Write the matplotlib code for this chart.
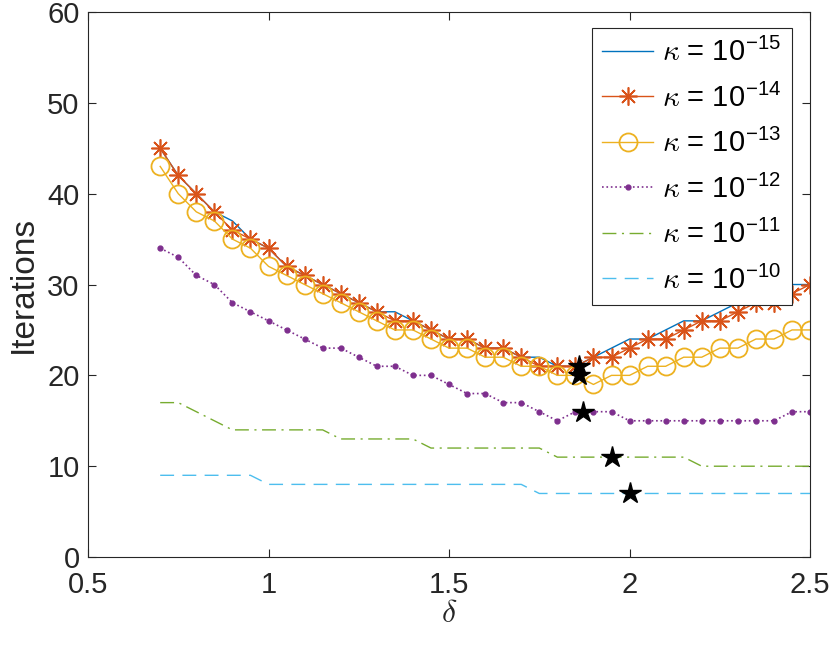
import numpy as np
import matplotlib
matplotlib.use('Agg')
import matplotlib.pyplot as plt

plt.rcParams['font.family'] = ['Liberation Sans', 'DejaVu Sans']
plt.rcParams['mathtext.fontset'] = 'cm'

# delta grid
delta = [0.70, 0.75, 0.80, 0.85, 0.90, 0.95, 1.00, 1.05, 1.10, 1.15, 1.20, 1.25,
         1.30, 1.35, 1.40, 1.45, 1.50, 1.55, 1.60, 1.65, 1.70, 1.75, 1.80, 1.85,
         1.90, 1.95, 2.00, 2.05, 2.10, 2.15, 2.20, 2.25, 2.30, 2.35, 2.40, 2.45, 2.50]

# iterations per kappa
it_k15 = [45, 42, 40, 38, 37, 35, 34, 32, 31, 30, 29, 28, 27, 27, 26, 25, 24, 24, 23,
          23, 22, 22, 21, 21, 22, 23, 24, 24, 25, 26, 26, 27, 28, 28, 29, 30, 30]
it_k14 = [45, 42, 40, 38, 36, 35, 34, 32, 31, 30, 29, 28, 27, 26, 26, 25, 24, 24, 23,
          23, 22, 21, 21, 21, 22, 22, 23, 24, 24, 25, 26, 26, 27, 28, 28, 29, 30]
it_k13 = [43, 40, 38, 37, 35, 34, 32, 31, 30, 29, 28, 27, 26, 25, 25, 24, 23, 23, 22,
          22, 21, 21, 20, 20, 19, 20, 20, 21, 21, 22, 22, 23, 23, 24, 24, 25, 25]
it_k12 = [34, 33, 31, 30, 28, 27, 26, 25, 24, 23, 23, 22, 21, 21, 20, 20, 19, 18, 18,
          17, 17, 16, 15, 16, 16, 16, 15, 15, 15, 15, 15, 15, 15, 15, 15, 16, 16]
it_k11 = [17, 17, 16, 15, 14, 14, 14, 14, 14, 14, 13, 13, 13, 13, 13, 12, 12, 12, 12,
          12, 12, 12, 11, 11, 11, 11, 11, 11, 11, 11, 10, 10, 10, 10, 10, 10, 10]
it_k10 = [9, 9, 9, 9, 9, 9, 8, 8, 8, 8, 8, 8, 8, 8, 8, 8, 8, 8, 8,
          8, 8, 7, 7, 7, 7, 7, 7, 7, 7, 7, 7, 7, 7, 7, 7, 7, 7]

# optimal delta markers
opt_delta = [1.86, 1.86, 1.87, 1.95, 2.00]
opt_iter = [21, 20, 16, 11, 7]

labels = [r'$\kappa$ = 10$^{\mathregular{-15}}$', r'$\kappa$ = 10$^{\mathregular{-14}}$',
          r'$\kappa$ = 10$^{\mathregular{-13}}$', r'$\kappa$ = 10$^{\mathregular{-12}}$',
          r'$\kappa$ = 10$^{\mathregular{-11}}$', r'$\kappa$ = 10$^{\mathregular{-10}}$']

fig = plt.figure(figsize=(8.3, 6.47), dpi=100)
ax = fig.add_axes([0.106, 0.139, 0.87, 0.8425])

ax.plot(delta, it_k15, '-', color='#0072BD', lw=1.0, label=labels[0])
ax.plot(delta, it_k14, '-', color='#D95319', lw=1.0, marker=(8, 2, 0),
        markersize=13, markeredgewidth=1.2, label=labels[1])
ax.plot(delta, it_k13, '-', color='#EDB120', lw=1.0, marker='o', markersize=13,
        markerfacecolor='none', markeredgewidth=1.3, label=labels[2])
ax.plot(delta, it_k12, ':', color='#7E2F8E', lw=1.2, marker='.', markersize=7,
        label=labels[3])
ax.plot(delta, it_k11, color='#77AC30', lw=1.0, linestyle=(0, (10, 4, 1.5, 4)),
        label=labels[4])
ax.plot(delta, it_k10, color='#4DBEEE', lw=1.0, linestyle=(0, (10, 6)),
        label=labels[5])
ax.plot(opt_delta, opt_iter, '*', color='black', markersize=16, linestyle='none')

ax.set_xlim(0.5, 2.5)
ax.set_ylim(0, 60)
ax.set_xticks([0.5, 1, 1.5, 2, 2.5])
ax.set_xticklabels(['0.5', '1', '1.5', '2', '2.5'])
ax.set_yticks([0, 10, 20, 30, 40, 50, 60])

for s in ax.spines.values():
    s.set_color('#262626')
    s.set_linewidth(0.8)
ax.tick_params(direction='in', top=True, right=True, length=6, width=0.8,
               colors='#262626', labelsize=21)
ax.tick_params(axis='x', pad=10)
ax.tick_params(axis='y', pad=6)

ax.set_xlabel(r'$\delta$', fontsize=23, color='#262626', labelpad=0)
ax.set_ylabel('Iterations', fontsize=24, color='#262626', labelpad=6)

leg = ax.legend(loc='upper right', bbox_to_anchor=(0.975, 0.971), borderaxespad=0,
                fontsize=21, fancybox=False, framealpha=1, edgecolor='#262626',
                handlelength=1.75, labelspacing=0.56, borderpad=0.35, handletextpad=0.3)
leg.get_frame().set_linewidth(0.8)

fig.savefig('out.png', dpi=100)
